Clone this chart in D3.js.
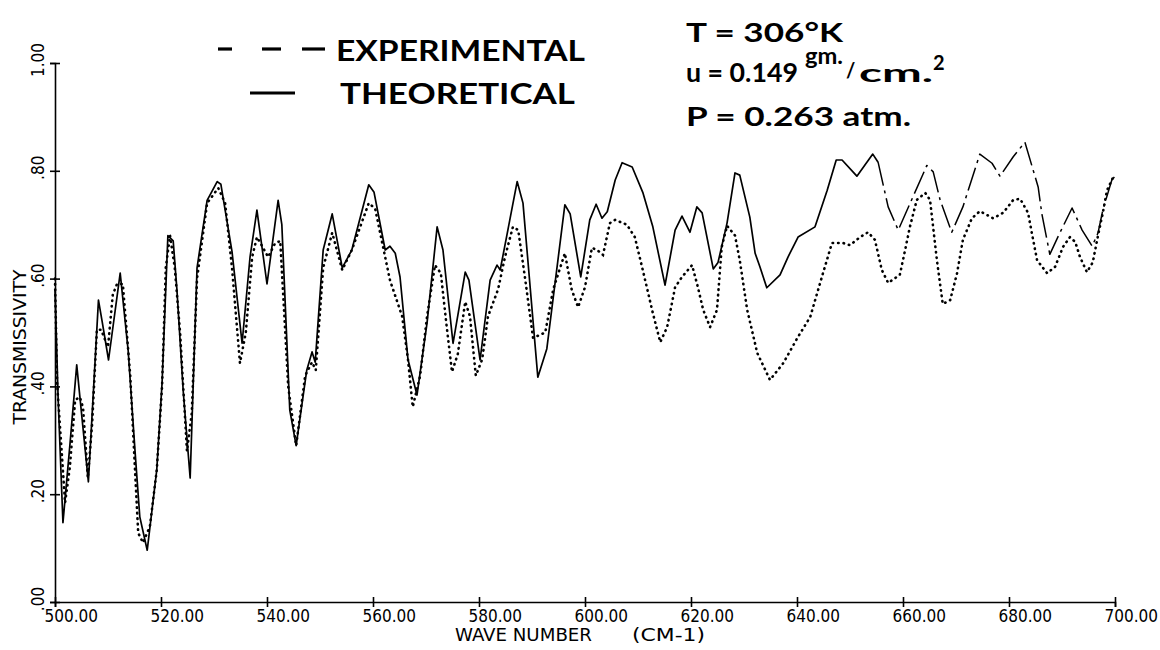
<!DOCTYPE html>
<html><head><meta charset="utf-8">
<script src="https://cdn.jsdelivr.net/npm/d3@7"></script>
<style>
body{margin:0;background:#fff;}
svg{display:block;background:#fff;}
</style></head>
<body>
<svg id="chart" width="1160" height="650"></svg>
<script>
// ---------- DATA ----------
const waveTheo = [500.0,500.6,501.5,502.8,504.1,504.7,506.3,508.2,508.9,510.1,512.3,513.8,515.1,516.0,517.4,519.2,520.2,521.3,522.3,523.0,524.2,525.5,526.8,528.7,530.6,531.3,533.4,535.3,536.8,538.1,540.0,542.1,542.8,544.3,545.5,547.5,548.5,549.1,550.6,552.3,554.2,556.0,559.2,560.2,562.3,563.2,564.2,565.1,566.6,568.3,570.2,572.1,573.2,575.1,577.4,578.1,580.2,582.1,583.4,584.0,587.2,588.3,591.1,592.8,596.2,597.2,599.2,600.9,602.1,603.2,604.2,605.7,607.0,608.9,610.9,612.8,615.1,617.0,618.3,619.8,621.1,622.1,624.2,625.1,626.8,628.3,629.2,631.1,632.1,633.0,634.3,636.8,638.3,640.2,643.4,645.7,647.4,648.5,651.3,654.3,655.3,657.2,659.1,664.5,665.7,667.0,669.2,671.3,674.5,676.8,678.3,680.8,683.0,685.5,686.2,687.7,689.6,691.9,693.8,695.7,696.8,697.7,699.4,700.0];
const transTheo = [0.58,0.375,0.147,0.29,0.44,0.38,0.223,0.56,0.52,0.449,0.61,0.467,0.28,0.158,0.096,0.245,0.406,0.68,0.67,0.58,0.39,0.23,0.62,0.745,0.78,0.775,0.65,0.48,0.64,0.727,0.59,0.745,0.70,0.356,0.29,0.43,0.464,0.445,0.653,0.72,0.62,0.653,0.774,0.76,0.653,0.66,0.647,0.603,0.45,0.384,0.518,0.696,0.653,0.48,0.612,0.597,0.449,0.597,0.625,0.616,0.78,0.74,0.417,0.47,0.737,0.72,0.603,0.709,0.738,0.712,0.724,0.783,0.815,0.807,0.76,0.696,0.588,0.69,0.716,0.686,0.733,0.722,0.618,0.63,0.703,0.796,0.792,0.714,0.647,0.622,0.583,0.607,0.64,0.677,0.696,0.764,0.82,0.82,0.79,0.831,0.816,0.733,0.69,0.81,0.798,0.746,0.686,0.733,0.831,0.814,0.79,0.826,0.853,0.77,0.72,0.645,0.685,0.731,0.69,0.66,0.685,0.727,0.783,0.79];

const waveExp = [500.0,500.4,501.9,502.8,503.8,504.7,505.3,506.2,507.0,507.9,508.7,510.0,510.9,511.7,512.8,514.2,515.7,516.6,517.9,519.2,520.2,520.9,521.7,522.6,523.6,524.9,525.8,526.8,528.7,530.8,532.1,533.4,534.9,536.0,537.2,538.1,539.1,540.2,541.5,542.5,544.0,545.5,547.2,548.5,549.2,550.6,552.3,554.2,556.0,559.2,560.4,563.2,565.5,566.6,567.5,568.9,570.2,571.7,572.8,573.8,574.9,576.0,577.4,578.3,579.4,580.6,581.7,583.6,584.9,586.4,587.4,588.7,590.2,592.5,594.0,596.2,597.5,598.7,600.0,601.3,602.3,603.4,604.7,605.7,607.9,609.4,610.9,612.8,614.2,615.5,617.0,618.3,620.2,621.3,622.3,623.6,624.9,625.8,626.8,628.3,629.2,630.6,632.5,634.9,637.4,640.2,642.5,644.9,646.6,648.7,650.0,651.9,653.4,654.7,656.0,657.2,659.4,660.4,661.3,662.6,664.2,665.1,666.4,667.5,668.9,670.2,671.3,673.0,674.5,677.0,678.9,680.8,682.1,683.6,684.3,685.3,687.2,688.7,690.2,691.5,692.5,693.4,694.7,695.8,696.8,697.7,698.5,699.6];
const transExp = [0.60,0.406,0.184,0.25,0.375,0.38,0.36,0.23,0.33,0.505,0.505,0.473,0.57,0.59,0.59,0.42,0.128,0.11,0.14,0.245,0.40,0.62,0.68,0.62,0.50,0.28,0.35,0.60,0.74,0.768,0.74,0.62,0.443,0.50,0.64,0.677,0.66,0.64,0.665,0.67,0.40,0.29,0.42,0.445,0.43,0.62,0.685,0.616,0.653,0.74,0.73,0.597,0.53,0.45,0.362,0.42,0.53,0.625,0.61,0.52,0.427,0.46,0.557,0.53,0.42,0.45,0.53,0.58,0.64,0.696,0.69,0.60,0.49,0.50,0.58,0.647,0.579,0.547,0.584,0.657,0.653,0.644,0.703,0.709,0.70,0.677,0.616,0.536,0.482,0.51,0.584,0.603,0.625,0.584,0.542,0.51,0.542,0.659,0.698,0.68,0.634,0.542,0.462,0.412,0.443,0.492,0.529,0.61,0.666,0.666,0.662,0.677,0.686,0.672,0.616,0.592,0.607,0.653,0.696,0.746,0.759,0.746,0.634,0.553,0.56,0.61,0.672,0.712,0.725,0.712,0.722,0.746,0.748,0.722,0.685,0.634,0.61,0.622,0.659,0.677,0.668,0.64,0.612,0.63,0.68,0.722,0.764,0.787];

const xTicks = [500,520,540,560,580,600,620,640,660,680,700];
const xTickLabels = ["500.00","520.00","540.00","560.00","580.00","600.00","620.00","640.00","660.00","680.00","700.00"];
const yTicks = [0,0.2,0.4,0.6,0.8,1.0];
const yTickLabels = [".00",".20",".40",".60",".80","1.00"];
const legendLabels = ["EXPERIMENTAL","THEORETICAL"];
const conditions = ["T = 306°K","u = 0.149","P = 0.263 atm."];
const xTitle = ["WAVE NUMBER","(CM-1)"];
const yTitle = "TRANSMISSIVITY";

// ---------- CHART ----------
const svg = d3.select("#chart");
const x = d3.scaleLinear().domain([500,700]).range([55,1115]);
const y = d3.scaleLinear().domain([0,1]).range([602,63]);
const plotFont = "'DejaVu Sans Condensed','Liberation Sans Narrow',sans-serif";
const boldFont = "Lato,'DejaVu Sans',sans-serif";

// X axis
const gx = svg.append("g").attr("transform","translate(0,602)")
  .call(d3.axisBottom(x).tickValues(xTicks).tickSizeOuter(0).tickSize(5)
        .tickFormat((d,i)=>xTickLabels[i]));
gx.select(".domain").attr("stroke","#000").attr("stroke-width",1.6);
gx.selectAll(".tick line").attr("y1",-5).attr("y2",5).attr("stroke","#000").attr("stroke-width",1.6);
gx.selectAll(".tick text").attr("text-anchor","start").attr("x",-11).attr("y",20).attr("dy",0)
  .attr("fill","#000").style("font-family",plotFont).style("font-size","17px");

// Y axis (labels drawn separately, rotated)
const gy = svg.append("g").attr("transform","translate(55,0)")
  .call(d3.axisLeft(y).tickValues(yTicks).tickSizeOuter(0).tickSize(5).tickFormat(""));
gy.select(".domain").attr("stroke","#000").attr("stroke-width",1.6);
gy.selectAll(".tick line").attr("x1",5).attr("x2",-5).attr("stroke","#000").attr("stroke-width",1.6);
svg.append("g").selectAll("g.ylab").data(yTicks).join("g").attr("class","ylab")
  .attr("transform",d=>`translate(44,${y(d)-3}) rotate(-90)`)
  .append("text").attr("text-anchor","middle").text((d,i)=>yTickLabels[i])
  .style("font-family",plotFont).style("font-size","17px");

// axis titles
svg.append("text").attr("x",455).attr("y",641).text(xTitle[0])
  .attr("textLength",137).attr("lengthAdjust","spacingAndGlyphs")
  .style("font-family",plotFont).style("font-size","18px");
svg.append("text").attr("x",632).attr("y",641).text(xTitle[1])
  .attr("textLength",73).attr("lengthAdjust","spacingAndGlyphs")
  .style("font-family",plotFont).style("font-size","18px");
svg.append("text").attr("transform","translate(26,347) rotate(-90)").attr("text-anchor","middle")
  .text(yTitle).attr("textLength",155).attr("lengthAdjust","spacingAndGlyphs")
  .style("font-family",plotFont).style("font-size","18px");

// data lines
const theo = waveTheo.map((w,i)=>({w,t:transTheo[i]}));
const exp = waveExp.map((w,i)=>({w,t:transExp[i]}));
const line = d3.line().x(d=>x(d.w)).y(d=>y(d.t));

svg.append("path").datum(theo.filter(d=>d.w<=655.3)).attr("d",line)
  .attr("fill","none").attr("stroke","#000").attr("stroke-width",1.7).attr("stroke-linejoin","round");
svg.append("path").datum(theo.filter(d=>d.w>=655.3)).attr("d",line)
  .attr("fill","none").attr("stroke","#000").attr("stroke-width",1.5)
  .attr("stroke-dasharray","24,5,3,5").attr("stroke-linejoin","round");
svg.append("path").datum(exp).attr("d",line)
  .attr("fill","none").attr("stroke","#000").attr("stroke-width",2.6)
  .attr("stroke-linecap","round").attr("stroke-dasharray","0.5,5");

// legend
const lg = svg.append("g");
[[218,232],[262,281],[302,325]].forEach(s=>{
  lg.append("line").attr("x1",s[0]).attr("x2",s[1]).attr("y1",49).attr("y2",49)
    .attr("stroke","#000").attr("stroke-width",3.2);
});
lg.append("line").attr("x1",250).attr("x2",295).attr("y1",93).attr("y2",93)
  .attr("stroke","#000").attr("stroke-width",2.8);
lg.append("text").attr("x",336).attr("y",61).text(legendLabels[0])
  .attr("textLength",249).attr("lengthAdjust","spacingAndGlyphs")
  .style("font-family",boldFont).style("font-weight","bold").style("font-size","29px");
lg.append("text").attr("x",340).attr("y",104).text(legendLabels[1])
  .attr("textLength",235).attr("lengthAdjust","spacingAndGlyphs")
  .style("font-family",boldFont).style("font-weight","bold").style("font-size","29px");

// conditions
const cg = svg.append("g").style("font-family",boldFont).style("font-weight","bold");
cg.append("text").attr("x",686).attr("y",42).text(conditions[0])
  .attr("textLength",157).attr("lengthAdjust","spacingAndGlyphs").style("font-size","27px");
cg.append("text").attr("x",686).attr("y",82).text(conditions[1])
  .attr("textLength",112).attr("lengthAdjust","spacingAndGlyphs").style("font-size","27px");
cg.append("text").attr("x",805).attr("y",64).text("gm.")
  .attr("textLength",38).attr("lengthAdjust","spacingAndGlyphs").style("font-size","22px");
cg.append("text").attr("x",846).attr("y",78).text("/").style("font-size","20px");
cg.append("text").attr("x",859).attr("y",82).text("cm.")
  .attr("textLength",74).attr("lengthAdjust","spacingAndGlyphs").style("font-size","25px");
cg.append("text").attr("x",933).attr("y",70).text("2").style("font-size","20px");
cg.append("text").attr("x",686).attr("y",126).text(conditions[2])
  .attr("textLength",225).attr("lengthAdjust","spacingAndGlyphs").style("font-size","27px");
</script>
</body></html>
